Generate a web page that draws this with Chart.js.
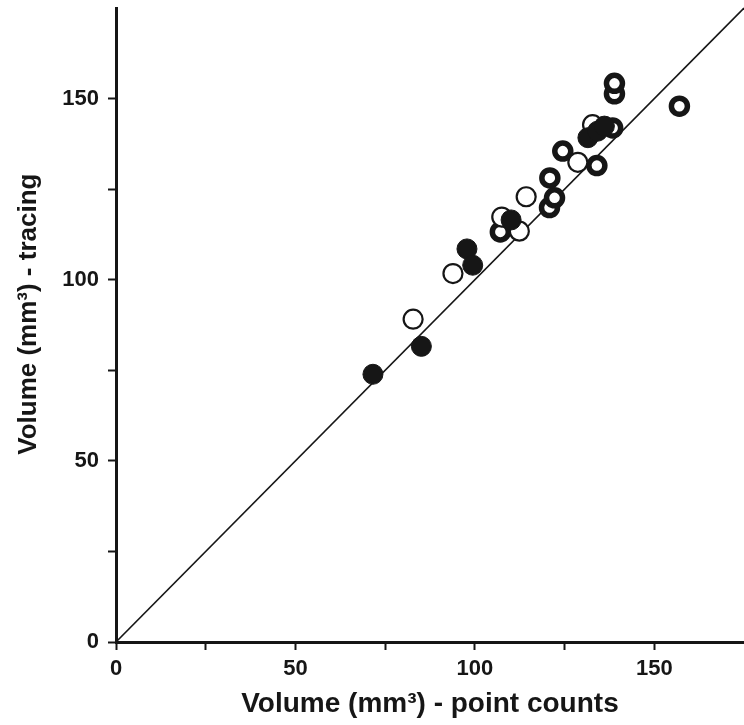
<!DOCTYPE html>
<html>
<head>
<meta charset="utf-8">
<script src="https://cdn.jsdelivr.net/npm/chart.js@4"></script>
<style>
  html, body { margin: 0; padding: 0; background: #fff; overflow: hidden; }
  #wrap { width: 744px; height: 725px; position: relative; }
  canvas { display: block; }
</style>
</head>
<body>
<div id="wrap"><canvas id="volChart"></canvas></div>
<script>
// values
const filledX = [71.6, 85.1, 97.8, 99.4, 110.1, 131.5, 134.2, 136.1];
const filledY = [73.9, 81.6, 108.5, 104.0, 116.5, 139.2, 141.0, 142.4];

const openX = [82.8, 93.9, 107.5, 112.4, 114.3, 128.7, 132.8];
const openY = [89.1, 101.7, 117.3, 113.4, 122.9, 132.4, 142.8];

const thickX = [107.1, 120.8, 122.2, 120.9, 124.5, 134.0, 138.4, 138.9, 138.9, 157.0];
const thickY = [113.2, 119.9, 122.6, 128.1, 135.5, 131.5, 141.9, 151.3, 154.2, 147.9];

const identityX = [0, 175];
const identityY = [0, 175];

const majorTicks = [0, 50, 100, 150];
const minorTicks = [25, 75, 125];
const axisMax = 175;

const ink = '#161616';
const fontFamily = "'Liberation Sans Narrow', 'Liberation Sans', Arial, sans-serif";

function toPoints(xs, ys) {
    return xs.map((x, i) => ({ x: x, y: ys[i] }));
}

function axisOptions(opts) {
    return {
        type: 'linear',
        min: 0,
        max: axisMax,
        afterBuildTicks: scale => {
            scale.ticks = majorTicks.concat(minorTicks)
                .sort((a, b) => a - b)
                .map(v => ({ value: v }));
        },
        ticks: {
            autoSkip: false,
            maxRotation: 0,
            color: ink,
            padding: opts.tickPadding,
            font: { family: fontFamily, size: 22, weight: 'bold' },
            callback: v => majorTicks.includes(v) ? v : ''
        },
        grid: {
            drawOnChartArea: false,
            drawTicks: true,
            tickLength: 8,
            tickWidth: 2,
            tickColor: ink
        },
        border: { display: true, color: ink, width: 3 },
        title: {
            display: true,
            text: opts.title,
            color: ink,
            padding: opts.titlePadding,
            font: { family: fontFamily, size: opts.titleSize, weight: 'bold' }
        },
        afterFit: opts.fit
    };
}

const ctx = document.getElementById('volChart').getContext('2d');

new Chart(ctx, {
    type: 'scatter',
    data: {
        datasets: [
            {
                label: 'filled',
                data: toPoints(filledX, filledY),
                backgroundColor: ink,
                borderColor: ink,
                borderWidth: 1,
                pointRadius: 10,
                order: 0
            },
            {
                label: 'open',
                data: toPoints(openX, openY),
                backgroundColor: '#ffffff',
                borderColor: ink,
                borderWidth: 2.2,
                pointRadius: 9.5,
                order: 1
            },
            {
                label: 'thick',
                data: toPoints(thickX, thickY),
                backgroundColor: '#ffffff',
                borderColor: ink,
                borderWidth: 5.5,
                pointRadius: 8,
                order: 2
            },
            {
                label: 'identity',
                data: toPoints(identityX, identityY),
                showLine: true,
                borderColor: ink,
                borderWidth: 1.7,
                pointRadius: 0,
                fill: false,
                order: 3
            }
        ]
    },
    options: {
        responsive: true,
        maintainAspectRatio: false,
        animation: false,
        clip: false,
        layout: { autoPadding: false, padding: { top: 8, right: 0, bottom: 0, left: 0 } },
        plugins: {
            legend: { display: false },
            tooltip: { enabled: false }
        },
        elements: { point: { hoverRadius: 10 } },
        scales: {
            x: axisOptions({
                title: 'Volume (mm³) - point counts',
                titleSize: 28,
                titlePadding: { top: 0, bottom: 4 },
                tickPadding: 6,
                fit: scale => {
                    scale.height = 83;
                    scale.paddingLeft = 0;
                    scale.paddingRight = 0;
                }
            }),
            y: axisOptions({
                // leading spaces nudge the rotated title up a little, as in the original
                title: '\u00A0\u00A0\u00A0Volume (mm³) - tracing',
                titleSize: 26,
                titlePadding: { top: 13, bottom: 0 },
                tickPadding: 9,
                fit: scale => {
                    scale.width = 116;
                    scale.paddingTop = 0;
                    scale.paddingBottom = 0;
                }
            })
        }
    }
});
</script>
</body>
</html>
